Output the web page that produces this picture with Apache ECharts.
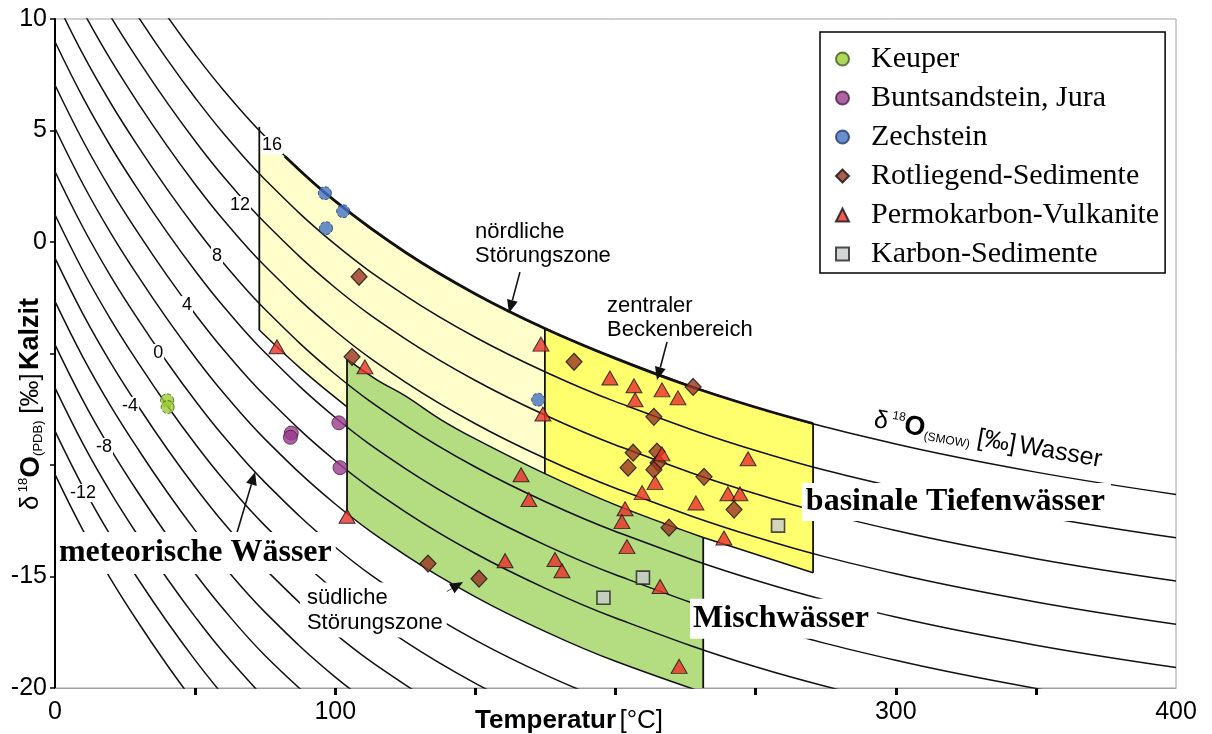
<!DOCTYPE html>
<html>
<head>
<meta charset="utf-8">
<script src="https://cdn.jsdelivr.net/npm/echarts@6/dist/echarts.min.js"></script>
<style>
html,body{margin:0;padding:0;background:#fff;}
#chart{width:1212px;height:734px;}
</style>
</head>
<body>
<div id="chart"></div>
<script>
// ---------- data ----------
// temperature grid (°C) for the water-isotope contour lines
const T_GRID = [0,10,20,30,40,50,60,75,100,125,150,175,200,250,300,350,400];
// δ18O calcite (PDB) (δ18O water SMOW = label)
const C16  = [null,null,null,11.98,10.13,8.41,6.83,4.73,1.83,-0.46,-2.33,-3.89,-5.22,-7.41,-9.06,-10.32,-11.32];
const C14  = [null,null,12.02,10.04,8.19,6.47,4.89,2.79,-0.11,-2.40,-4.27,-5.83,-7.16,-9.35,-11.00,-12.26,-13.26];
const C12  = [null,12.29,10.08,8.10,6.25,4.53,2.95,0.85,-2.05,-4.34,-6.21,-7.77,-9.10,-11.29,-12.94,-14.20,-15.20];
const C10  = [12.86,10.35,8.14,6.16,4.31,2.59,1.01,-1.09,-3.99,-6.28,-8.15,-9.71,-11.04,-13.23,-14.88,-16.14,-17.14];
const C8   = [10.92,8.41,6.20,4.22,2.37,0.65,-0.93,-3.03,-5.93,-8.22,-10.09,-11.65,-12.98,-15.17,-16.82,-18.08,-19.08];
const C6   = [8.98,6.47,4.26,2.28,0.43,-1.29,-2.87,-4.97,-7.87,-10.16,-12.03,-13.59,-14.92,-17.11,-18.76,-20.02,-21.02];
const C4   = [7.04,4.53,2.32,0.34,-1.51,-3.23,-4.81,-6.91,-9.81,-12.10,-13.97,-15.53,-16.86,-19.05,-20.70,null,null];
const C2   = [5.10,2.59,0.38,-1.60,-3.45,-5.17,-6.75,-8.85,-11.75,-14.04,-15.91,-17.47,-18.80,-20.99,null,null,null];
const C0   = [3.16,0.65,-1.56,-3.54,-5.39,-7.11,-8.69,-10.79,-13.69,-15.98,-17.85,-19.41,-20.74,null,null,null,null];
const CM2  = [1.22,-1.29,-3.50,-5.48,-7.33,-9.05,-10.63,-12.73,-15.63,-17.92,-19.79,-21.35,null,null,null,null,null];
const CM4  = [-0.72,-3.23,-5.44,-7.42,-9.27,-10.99,-12.57,-14.67,-17.57,-19.86,-21.73,null,null,null,null,null,null];
const CM6  = [-2.66,-5.17,-7.38,-9.36,-11.21,-12.93,-14.51,-16.61,-19.51,-21.80,null,null,null,null,null,null,null];
const CM8  = [-4.60,-7.11,-9.32,-11.30,-13.15,-14.87,-16.45,-18.55,-21.45,null,null,null,null,null,null,null,null];
const CM10 = [-6.54,-9.05,-11.26,-13.24,-15.09,-16.81,-18.39,-20.49,null,null,null,null,null,null,null,null,null];
const CM12 = [-8.48,-10.99,-13.20,-15.18,-17.03,-18.75,-20.33,null,null,null,null,null,null,null,null,null,null];
const CM14 = [-10.42,-12.93,-15.14,-17.12,-18.97,-20.69,null,null,null,null,null,null,null,null,null,null,null];
const CONTOURS = [C16,C14,C12,C10,C8,C6,C4,C2,C0,CM2,CM4,CM6,CM8,CM10,CM12,CM14];

// contour labels (δ18O water)
const CONTOUR_LABELS = ['16','12','8','4','0','-4','-8','-12'];
const CONTOUR_LABEL_AT = [[77.4,4.35],[66.0,1.66],[57.8,-0.63],[47.1,-2.83],[36.8,-4.98],[26.8,-7.35],[17.5,-9.19],[10.0,-11.26]];

// regions
const REGION_NORTH = [[72.9,4.24],[82,3.85],[100,1.83],[125,-0.46],[150,-2.33],[174.8,-3.88],[174.8,-10.4],[150,-8.83],[137.5,-7.95],[125,-6.9],[115,-6.19],[104.2,-5.25],[104.2,-7.39],[88.5,-5.77],[72.9,-3.95]];
const REGION_MIX   = [[104.2,-5.25],[115,-6.19],[125,-6.9],[137.5,-7.95],[150,-8.83],[175,-10.4],[200,-11.79],[231.3,-13.25],[231.3,-20],[226.5,-20],[200,-18.80],[175,-17.47],[150,-15.91],[125,-14.04],[104.2,-12.17]];
const REGION_BASIN = [[174.8,-3.88],[200,-5.22],[225,-6.40],[250,-7.41],[270.5,-8.14],[270.5,-14.83],[250,-14.0],[231.3,-13.25],[200,-11.79],[174.8,-10.4]];

// region outlines
const TOP_EDGE   = [[82,3.85],[100,1.83],[125,-0.46],[150,-2.33],[175,-3.89],[200,-5.22],[225,-6.40],[250,-7.41],[270.5,-8.14]];
const MIX_TOP    = [[104.2,-5.25],[115,-6.19],[125,-6.9],[137.5,-7.95],[150,-8.83],[175,-10.4],[200,-11.79],[231.3,-13.25]];
const NORTH_BOTTOM = [[72.9,-3.95],[88.5,-5.77],[104.2,-7.39]];
const BASIN_BOTTOM = [[231.3,-13.25],[250,-14.0],[270.5,-14.83]];
const VERTICALS = [
  [[72.9,5.16],[72.9,-3.95]],
  [[104.2,-5.25],[104.2,-12.17]],
  [[174.8,-3.88],[174.8,-10.4]],
  [[231.3,-13.25],[231.3,-20]],
  [[270.5,-8.14],[270.5,-14.83]]
];

// arrows [x1,y1,x2,y2] (tip at x2,y2)
const ARROWS = [[165.9,-1.35,162.0,-3.18],[218.4,-4.48,214.8,-6.19],[64.9,-13.05,71.4,-10.31],[132.7,-16.19,145.6,-15.25]];

// text notes
const NOTE_TEXTS = ['nördliche\nStörungszone','zentraler\nBeckenbereich','südliche\nStörungszone','meteorische Wässer','Mischwässer','basinale Tiefenwässer'];
const NOTE_AT = [[149.9,-0.09],[197.0,-3.41],[87.4,-16.5],[0.7,-13.95],[226.6,-16.9],[266.5,-11.66]];
const WATER_LABEL_AT = [[332.9,-8.88]];

// samples [T °C, δ18O calcite PDB]
const KEUPER = [[40.0,-7.1],[40.2,-7.4]];
const BUNTSANDSTEIN = [[84.3,-8.57],[84.0,-8.76],[101.3,-8.11],[101.7,-10.12]];
const ZECHSTEIN = [[96.3,2.19],[102.8,1.38],[96.7,0.62],[172.4,-7.07]];
const ROTLIEGEND = [[108.5,-1.56],[106.0,-5.15],[185.2,-5.37],[227.7,-6.5],[213.7,-7.84],[206.3,-9.45],[214.8,-9.4],[215.2,-9.9],[204.5,-10.12],[213.7,-10.21],[231.6,-10.53],[242.3,-12.0],[219.1,-12.81],[133.1,-14.42],[151.3,-15.1]];
const PERMOKARBON = [[79.2,-4.7],[110.6,-5.6],[104.2,-12.3],[173.4,-4.58],[174.1,-7.71],[198,-6.1],[206.6,-6.45],[207,-7.08],[216.6,-6.63],[222.3,-6.99],[216.6,-9.5],[214.1,-10.79],[209.5,-11.24],[247.3,-9.72],[240.1,-11.29],[244.4,-11.29],[228.7,-11.7],[203.4,-11.96],[202.3,-12.54],[204.1,-13.66],[238.7,-13.27],[166.3,-10.44],[169.1,-11.55],[160.6,-14.29],[178.4,-14.24],[180.9,-14.74],[215.9,-15.45],[222.7,-19.03]];
const KARBON = [[209.8,-15.05],[195.7,-15.95],[258,-12.72]];

const X_TICKS = [50,100,150,200,250,300,350];
const X_LABELS = [0,100,300,400];

// ---------- chart ----------
const SANS = 'Liberation Sans';
const SERIF = 'Liberation Serif';

function regionSeries(pts, color){
  return {
    type:'custom', silent:true, z:1, clip:true, data:pts,
    renderItem:function(params, api){
      if(params.dataIndex !== 0) return null;
      return {type:'polygon', shape:{points:pts.map(p=>api.coord(p))}, style:{fill:color}};
    }
  };
}
function edgeSeries(pts, width, smooth){
  return {type:'line', data:pts, smooth:smooth?0.4:false, symbol:'none', silent:true, z:3,
    lineStyle:{color:'#111', width:width}, clip:true};
}

const series = [];
series.push(regionSeries(REGION_NORTH,'#FFFFCC'));
series.push(regionSeries(REGION_MIX,'#B4DC80'));
series.push(regionSeries(REGION_BASIN,'#FFFF6E'));

CONTOURS.forEach(function(vals){
  const d = [];
  T_GRID.forEach(function(t,i){ if(vals[i] !== null) d.push([t, vals[i]]); });
  series.push({type:'line', data:d, smooth:0.4, symbol:'none', silent:true, z:2, clip:true,
    lineStyle:{color:'#111', width:1.5}});
});

series.push(edgeSeries(TOP_EDGE, 2.8, true));
series.push(edgeSeries(MIX_TOP, 1.5, true));
series.push(edgeSeries(NORTH_BOTTOM, 1.5, true));
series.push(edgeSeries(BASIN_BOTTOM, 1.5, true));
VERTICALS.forEach(function(v){ series.push(edgeSeries(v, 1.8, false)); });

// arrows
series.push({
  type:'custom', silent:true, z:4, clip:false, data:ARROWS,
  encode:{x:[0,2], y:[1,3]},
  renderItem:function(params, api){
    const a = api.coord([api.value(0), api.value(1)]);
    const b = api.coord([api.value(2), api.value(3)]);
    const dx = b[0]-a[0], dy = b[1]-a[1];
    const L = Math.sqrt(dx*dx+dy*dy);
    const ux = dx/L, uy = dy/L;
    const hl = 13, hw = 5.5;
    const bx = b[0]-ux*hl, by = b[1]-uy*hl;
    const px = -uy, py = ux;
    const thin = params.dataIndex === 3;
    return {type:'group', children:[
      {type:'line', shape:{x1:a[0], y1:a[1], x2:bx, y2:by}, style:{stroke: thin ? '#555' : '#111', lineWidth: thin ? 1 : 1.6}},
      {type:'polygon', shape:{points:[[b[0],b[1]],[bx+px*hw, by+py*hw],[bx-px*hw, by-py*hw]]}, style:{fill:'#111'}}
    ]};
  }
});

// samples
series.push({name:'Keuper', type:'scatter', data:KEUPER, symbol:'circle', symbolSize:13, z:5,
  itemStyle:{color:'#9ACD32', borderColor:'#3f5a18', borderWidth:1, borderType:'dashed'}});
series.push({name:'Buntsandstein, Jura', type:'scatter', data:BUNTSANDSTEIN, symbol:'circle', symbolSize:14, z:5,
  itemStyle:{color:'#9B3C8E', borderColor:'#4a1d44', borderWidth:1}});
series.push({name:'Zechstein', type:'scatter', data:ZECHSTEIN, symbol:'circle', symbolSize:13, z:5,
  itemStyle:{color:'#4472C4', borderColor:'#1f3866', borderWidth:1, borderType:'dashed'}});
series.push({name:'Rotliegend-Sedimente', type:'scatter', data:ROTLIEGEND, symbol:'diamond', symbolSize:[16,17], z:5,
  itemStyle:{color:'#9A3322', borderColor:'#111', borderWidth:1.2}});
series.push({name:'Permokarbon-Vulkanite', type:'scatter', data:PERMOKARBON, symbol:'triangle', symbolSize:[16,14], z:5,
  itemStyle:{color:'#E8302A', borderColor:'#111', borderWidth:1}});
series.push({name:'Karbon-Sedimente', type:'scatter', data:KARBON, symbol:'rect', symbolSize:13, z:5,
  itemStyle:{color:'#C8CACC', borderColor:'#222', borderWidth:1.6}});

// contour number labels
series.push({
  type:'custom', silent:true, z:6, clip:true, data:CONTOUR_LABEL_AT,
  renderItem:function(params, api){
    const p = api.coord([api.value(0), api.value(1)]);
    return {type:'text', x:p[0], y:p[1], style:{text:CONTOUR_LABELS[params.dataIndex],
      fontSize:18, fontFamily:SANS, fill:'#000', align:'center', verticalAlign:'middle',
      backgroundColor:'#fff', padding:[0,1]}};
  }
});

// notes
const NOTE_STYLE = [
  {size:22, weight:'normal', family:SANS, lh:24, bg:null, pad:0},
  {size:22, weight:'normal', family:SANS, lh:24, bg:null, pad:0},
  {size:22, weight:'normal', family:SANS, lh:25, bg:'#fff', pad:[2,4,3,7]},
  {size:32, weight:'bold', family:SERIF, lh:34, bg:'#fff', pad:[4,4,4,2]},
  {size:32, weight:'bold', family:SERIF, lh:34, bg:'#fff', pad:[3,8,3,3]},
  {size:32, weight:'bold', family:SERIF, lh:34, bg:'#fff', pad:[2,6,2,4]}
];
series.push({
  type:'custom', silent:true, z:7, clip:false, data:NOTE_AT,
  renderItem:function(params, api){
    const p = api.coord([api.value(0), api.value(1)]);
    const s = NOTE_STYLE[params.dataIndex];
    const st = {text:NOTE_TEXTS[params.dataIndex], fontSize:s.size, fontWeight:s.weight, fontFamily:s.family,
      lineHeight:s.lh, fill:'#000', align:'left', verticalAlign:'middle', padding:s.pad};
    if(s.bg) st.backgroundColor = s.bg;
    return {type:'text', x:p[0], y:p[1], style:st};
  }
});

// water isotope label (rotated)
series.push({
  type:'custom', silent:true, z:7, clip:false, data:WATER_LABEL_AT,
  renderItem:function(params, api){
    const p = api.coord([api.value(0), api.value(1)]);
    return {type:'text', x:p[0], y:p[1], rotation:-10*Math.PI/180, style:{
      text:'{d|δ} {s|18}{o|O}{sub|(SMOW)}  {n|[‰]} {n|Wasser}',
      align:'center', verticalAlign:'middle',
      rich:{
        d:{fontSize:25, fontFamily:SANS, fill:'#000'},
        s:{fontSize:12, fontFamily:SANS, fill:'#000', verticalAlign:'top'},
        o:{fontSize:27, fontWeight:'bold', fontFamily:SANS, fill:'#000'},
        sub:{fontSize:12, fontFamily:SANS, fill:'#000', verticalAlign:'bottom'},
        n:{fontSize:25, fontFamily:SANS, fill:'#000'}
      }}};
  }
});

const option = {
  animation:false,
  backgroundColor:'#fff',
  grid:{left:55, right:36, top:19, bottom:46, show:true, borderColor:'#a0a0a0', borderWidth:1,
    backgroundColor:'transparent', containLabel:false, outerBoundsMode:'none'},
  xAxis:{
    type:'value', min:0, max:400, interval:50,
    axisLine:{show:true, onZero:false, lineStyle:{color:'#a0a0a0', width:1}},
    axisTick:{show:true, length:7, customValues:X_TICKS, lineStyle:{color:'#000', width:3}},
    axisLabel:{show:true, customValues:X_LABELS, margin:12, fontSize:25, fontFamily:SANS, color:'#000'},
    splitLine:{show:false}
  },
  yAxis:{
    type:'value', min:-20, max:10, interval:5,
    axisLine:{show:true, onZero:false, lineStyle:{color:'#000', width:2}},
    axisTick:{show:true, length:5, lineStyle:{color:'#000', width:1.5}},
    axisLabel:{show:true, margin:8, fontSize:25, fontFamily:SANS, color:'#000',
      formatter:function(v){ return (v === -5 || v === -10) ? '' : String(v); }},
    splitLine:{show:false}
  },
  legend:{
    data:['Keuper','Buntsandstein, Jura','Zechstein','Rotliegend-Sedimente','Permokarbon-Vulkanite','Karbon-Sedimente'],
    orient:'vertical', left:820, top:32, itemWidth:13, itemHeight:13, itemGap:9,
    padding:[12,6,4,15], backgroundColor:'#fff', borderColor:'#000', borderWidth:1.5, borderRadius:0,
    selectedMode:false,
    textStyle:{fontFamily:SERIF, fontSize:30, color:'#000', lineHeight:30, padding:[0,0,0,17]}
  },
  graphic:[
    {type:'text', x:475, y:721, z:10, style:{text:'{b|Temperatur} {n|[°C]}', align:'left', verticalAlign:'middle',
      rich:{b:{fontSize:26, fontWeight:'bold', fontFamily:SANS, fill:'#000'}, n:{fontSize:26, fontFamily:SANS, fill:'#000'}}}},
    {type:'text', x:31, y:404, rotation:Math.PI/2, z:10, style:{
      text:'{d|δ} {s|18}{o|O}{sub|(PDB)}  {n|[‰]} {k|Kalzit}', align:'center', verticalAlign:'middle',
      rich:{
        d:{fontSize:26, fontFamily:SANS, fill:'#000'},
        s:{fontSize:13, fontFamily:SANS, fill:'#000', verticalAlign:'top'},
        o:{fontSize:28, fontWeight:'bold', fontFamily:SANS, fill:'#000'},
        sub:{fontSize:13, fontFamily:SANS, fill:'#000', verticalAlign:'bottom'},
        n:{fontSize:26, fontFamily:SANS, fill:'#000'},
        k:{fontSize:27, fontWeight:'bold', fontFamily:SANS, fill:'#000'}
      }}}
  ],
  series:series
};

const chart = echarts.init(document.getElementById('chart'), null, {renderer:'canvas'});
chart.setOption(option);
</script>
</body>
</html>
